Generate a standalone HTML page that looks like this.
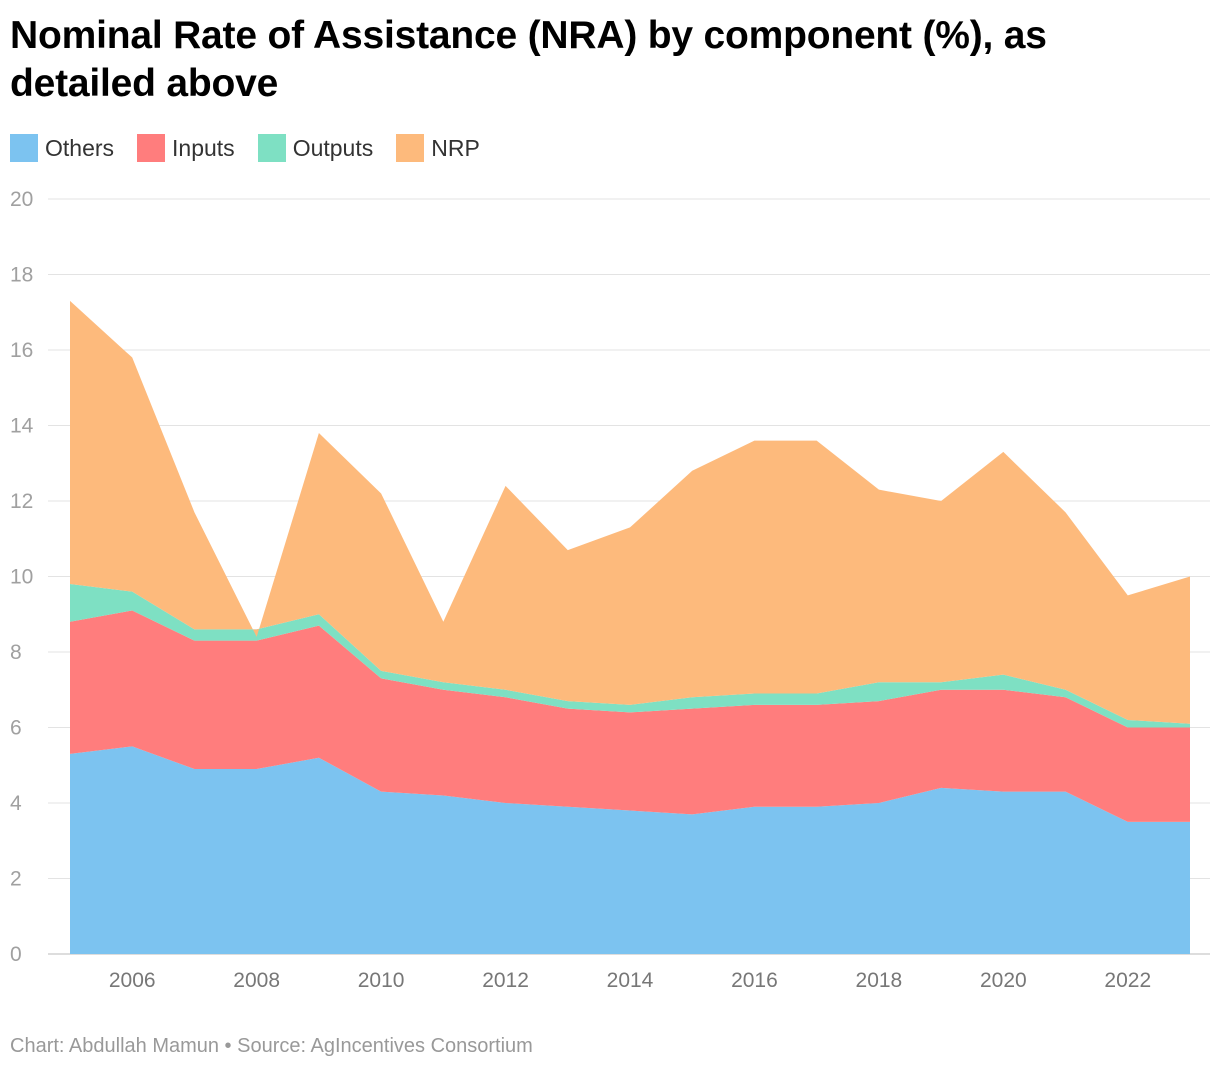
<!DOCTYPE html>
<html><head><meta charset="utf-8"><style>
body{margin:0;background:#fff;font-family:"Liberation Sans",Arial,sans-serif;}
#wrap{position:relative;width:1220px;height:1070px;overflow:hidden}
h1{position:absolute;left:10px;top:12px;margin:0;font-size:39px;line-height:48px;font-weight:bold;color:#000;width:1140px;letter-spacing:-0.2px}
.legend{position:absolute;top:134px;left:10px;display:flex;font-size:23px;color:#333}
.li{display:flex;align-items:center;margin-right:23px}
.sw{width:28px;height:28px;margin-right:7px}
.foot{position:absolute;left:10px;top:1035px;font-size:20px;color:#999}
</style></head><body><div id="wrap">
<h1>Nominal Rate of Assistance (NRA) by component (%), as detailed above</h1>
<div class="legend">
<div class="li"><div class="sw" style="background:#7cc3f0"></div>Others</div>
<div class="li"><div class="sw" style="background:#ff7d7d"></div>Inputs</div>
<div class="li"><div class="sw" style="background:#7ee0c3"></div>Outputs</div>
<div class="li"><div class="sw" style="background:#fdba7c"></div>NRP</div>
</div>
<svg id="svg" width="1220" height="1070" style="position:absolute;left:0;top:0"></svg>
<div class="foot">Chart: Abdullah Mamun • Source: AgIncentives Consortium</div>
</div>
<script>
const years=[2005,2006,2007,2008,2009,2010,2011,2012,2013,2014,2015,2016,2017,2018,2019,2020,2021,2022,2023];
const others=[5.3,5.5,4.9,4.9,5.2,4.3,4.2,4.0,3.9,3.8,3.7,3.9,3.9,4.0,4.4,4.3,4.3,3.5,3.5];
const inputs=[3.5,3.6,3.4,3.4,3.5,3.0,2.8,2.8,2.6,2.6,2.8,2.7,2.7,2.7,2.6,2.7,2.5,2.5,2.5];
const outputs=[1.0,0.5,0.3,0.3,0.3,0.2,0.2,0.2,0.2,0.2,0.3,0.3,0.3,0.5,0.2,0.4,0.2,0.2,0.1];
const nrp=[7.5,6.2,3.1,-0.2,4.8,4.7,1.6,5.4,4.0,4.7,6.0,6.7,6.7,5.1,4.8,5.9,4.7,3.3,3.9];
const yTicks=[0,2,4,6,8,10,12,14,16,18,20];
const xTicks=[2006,2008,2010,2012,2014,2016,2018,2020,2022];
const NS="http://www.w3.org/2000/svg",svg=document.getElementById('svg');
const x=v=>70+(v-2005)*(1120/18), y=v=>954-v*37.75;
function mk(t,a){const e=document.createElementNS(NS,t);for(const k in a)e.setAttribute(k,a[k]);svg.appendChild(e);return e;}
yTicks.forEach(t=>{
 const l=mk('line',{x1:48,x2:1210,y1:y(t),y2:y(t),stroke:t==0?'#bbb':'#e3e3e3','stroke-width':1});
 
 
 const tx=mk('text',{x:10,y:y(t)+7,'font-size':21,fill:'#a0a0a0'});tx.textContent=t;
 
 
});
xTicks.forEach(t=>{
 const tx=mk('text',{x:x(t),y:987,'font-size':21,fill:'#777','text-anchor':'middle'});tx.textContent=t;
 
 
});
const series=[['others',others,'#7cc3f0'],['inputs',inputs,'#ff7d7d'],['outputs',outputs,'#7ee0c3'],['nrp',nrp,'#fdba7c']];
let base=years.map(()=>0);
series.forEach(([n,vals,c])=>{
 const top=base.map((b,i)=>b+vals[i]);
 let d=years.map((yr,i)=>(i?'L':'M')+x(yr)+','+y(top[i])).join('');
 for(let i=years.length-1;i>=0;i--)d+='L'+x(years[i])+','+y(base[i]);
 const p=mk('path',{d:d+'Z',fill:c});
 
 
 base=top;
});
</script></body></html>
